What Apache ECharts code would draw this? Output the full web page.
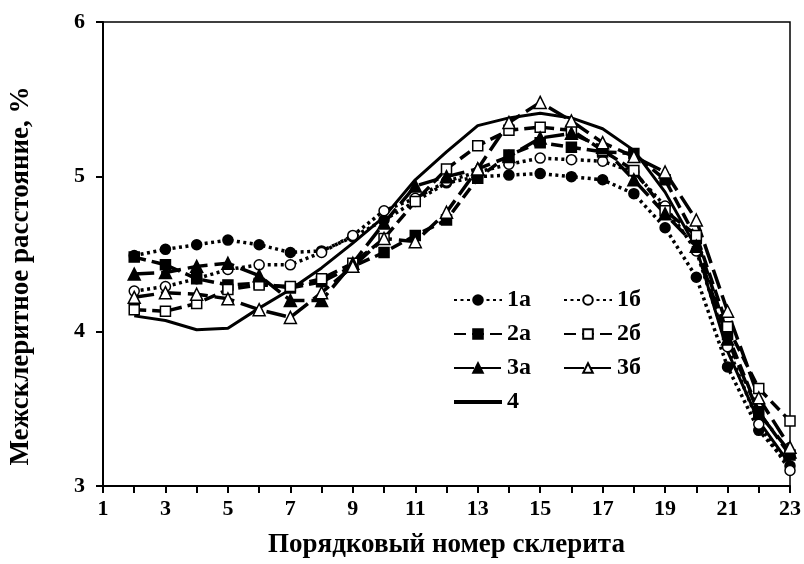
<!DOCTYPE html>
<html><head><meta charset="utf-8">
<script src="https://cdn.jsdelivr.net/npm/echarts@6/dist/echarts.min.js"></script>
<style>html,body{margin:0;padding:0;background:#fff}#c{width:804px;height:564px}</style>
</head><body><div id="c"></div>
<script>
const xs = [2,3,4,5,6,7,8,9,10,11,12,13,14,15,16,17,18,19,20,21,22,23];
const s1a = [4.49,4.53,4.56,4.59,4.56,4.51,4.52,4.61,4.72,4.84,4.96,5.00,5.01,5.02,5.00,4.98,4.89,4.67,4.35,3.77,3.36,3.13];
const s1b = [4.26,4.29,4.34,4.40,4.43,4.43,4.51,4.62,4.78,4.86,4.97,5.03,5.08,5.12,5.11,5.10,5.03,4.81,4.52,3.90,3.40,3.10];
const s2a = [4.48,4.43,4.34,4.30,4.31,4.28,4.32,4.42,4.51,4.62,4.72,4.99,5.14,5.22,5.19,5.16,5.15,4.98,4.60,3.98,3.48,3.20];
const s2b = [4.14,4.13,4.18,4.27,4.30,4.29,4.34,4.44,4.60,4.84,5.05,5.20,5.30,5.32,5.30,5.17,5.04,4.78,4.62,4.03,3.63,3.42];
const s3a = [4.37,4.38,4.42,4.44,4.36,4.20,4.20,4.44,4.70,4.94,5.00,5.05,5.13,5.25,5.28,5.19,4.98,4.76,4.55,3.95,3.47,3.22];
const s3b = [4.22,4.25,4.24,4.21,4.14,4.09,4.25,4.42,4.60,4.58,4.77,5.05,5.35,5.48,5.36,5.22,5.13,5.03,4.72,4.13,3.57,3.25];
const s4  = [4.10,4.07,4.01,4.02,4.15,4.27,4.41,4.57,4.74,4.98,5.16,5.33,5.38,5.41,5.38,5.31,5.17,4.90,4.54,3.87,3.42,3.14];

const FONT = '"Liberation Serif","Times New Roman",serif';
function pairs(v){ return xs.map((x,i)=>[x,v[i]]); }
const dot = [3,3.5], dash = [12,6], longDash = [20,7];
function mk(name, vals, sym, filled, dashType, lw){
  return {
    name, type:'line', data:pairs(vals),
    symbol: sym || 'none', symbolSize: sym==='triangle'?12:10,
    showSymbol: !!sym,
    itemStyle:{color: filled ? '#000' : '#fff', borderColor:'#000', borderWidth:1.5},
    lineStyle:{color:'#000', width: lw, type: dashType},
    emphasis:{disabled:true}, animation:false
  };
}
const series = [
  mk('4', s4, null, true, 'solid', 3),
  mk('1а', s1a, 'circle', true, dot, 3.5),
  mk('1б', s1b, 'circle', false, dot, 3.5),
  mk('2а', s2a, 'rect', true, dash, 3.5),
  mk('2б', s2b, 'rect', false, dash, 3.5),
  mk('3а', s3a, 'triangle', true, longDash, 3.5),
  mk('3б', s3b, 'triangle', false, longDash, 3.5)
];
const legendText = {fontFamily:FONT, fontWeight:'bold', fontSize:24, color:'#000'};
const chart = echarts.init(document.getElementById('c'), null, {renderer:'canvas'});
chart.setOption({
  backgroundColor:'#fff',
  animation:false,
  grid:{left:100, right:11, top:22, bottom:74, show:true, borderColor:'#000', borderWidth:1.5, backgroundColor:'transparent'},
  legend:[
    {data:['1а','2а','3а',{name:'4', itemStyle:{opacity:0}, lineStyle:{width:4}}], orient:'vertical', left:447, top:283, itemWidth:48, itemHeight:12, itemGap:10, textStyle:legendText, selectedMode:false},
    {data:['1б','2б','3б'], orient:'vertical', left:558, top:283, itemWidth:48, itemHeight:12, itemGap:10, textStyle:legendText, selectedMode:false}
  ],
  xAxis:{type:'value', min:1, max:23, interval:1,
    name:'Порядковый номер склерита', nameLocation:'middle', nameGap:46,
    nameTextStyle:{fontFamily:FONT, fontWeight:'bold', fontSize:27, color:'#000'},
    axisLine:{lineStyle:{color:'#000', width:2}},
    axisTick:{show:true, inside:false, length:7, lineStyle:{color:'#000', width:2}},
    splitLine:{show:false},
    axisLabel:{fontFamily:FONT, fontWeight:'bold', fontSize:22, color:'#000', margin:12,
      formatter:v=> (v%2===1 ? String(v) : '')}
  },
  yAxis:{type:'value', min:3, max:6, interval:1,
    name:'Межсклеритное расстояние, %', nameLocation:'middle', nameGap:68,
    nameTextStyle:{fontFamily:FONT, fontWeight:'bold', fontSize:27, color:'#000', padding:[0,44,0,0]},
    axisLine:{show:true, lineStyle:{color:'#000', width:2}},
    axisTick:{show:true, inside:false, length:7, lineStyle:{color:'#000', width:2}},
    splitLine:{show:false},
    axisLabel:{fontFamily:FONT, fontWeight:'bold', fontSize:22, color:'#000', margin:18}
  },
  series
});
</script></body></html>
